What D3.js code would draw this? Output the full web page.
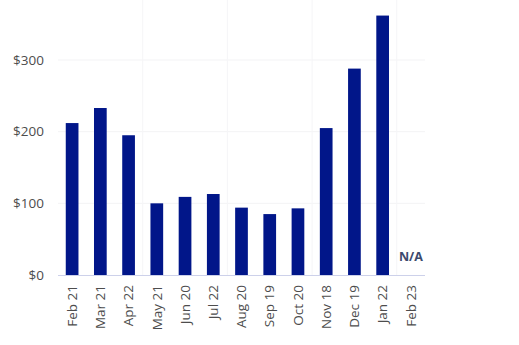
<!DOCTYPE html>
<html><head><meta charset="utf-8">
<script src="https://cdn.jsdelivr.net/npm/d3@7"></script>
<style>
body{margin:0;background:#fff;}
svg{display:block;font-family:"Open Sans",sans-serif;}
</style></head>
<body><svg id="chart" width="519" height="345"></svg>
<script>
const categories = ["Feb 21","Mar 21","Apr 22","May 21","Jun 20","Jul 22","Aug 20","Sep 19","Oct 20","Nov 18","Dec 19","Jan 22","Feb 23"];
const values = [212, 233, 195, 100, 109, 113, 94, 85, 93, 205, 288, 362, null];
const yTicks = [0, 100, 200, 300];
const naLabel = "N/A";

(function () {
const svg = d3.select("#chart");
const mLeft = 58, mRight = 425, mBottom = 275;

const x = d3.scaleBand().domain(categories).range([mLeft, mRight]).paddingInner(0.55).paddingOuter(0.275);
const y = d3.scaleLinear().domain([0, 300]).range([mBottom, 60]);

// horizontal grid
svg.append("g").selectAll("line").data(yTicks.filter(d => d > 0)).join("line")
  .attr("x1", mLeft).attr("x2", mRight)
  .attr("y1", d => y(d)).attr("y2", d => y(d))
  .attr("stroke", "#f3f3f5").attr("stroke-width", 1);

// vertical grid every 3 categories
const step = x.step();
svg.append("g").selectAll("line").data([3, 6, 9, 12]).join("line")
  .attr("x1", d => mLeft + d * step).attr("x2", d => mLeft + d * step)
  .attr("y1", 0).attr("y2", mBottom)
  .attr("stroke", "#f5f5f7").attr("stroke-width", 1);

// bars
svg.append("g").selectAll("rect").data(categories.map((c, i) => ({c, v: values[i]})).filter(d => d.v != null)).join("rect")
  .attr("x", d => x(d.c)).attr("width", x.bandwidth())
  .attr("y", d => y(d.v)).attr("height", d => y(0) - y(d.v))
  .attr("fill", "#011689");

// N/A
categories.forEach((c, i) => {
  if (values[i] == null) {
    svg.append("text").attr("x", x(c) + x.bandwidth() / 2).attr("y", y(0) - 14)
      .attr("text-anchor", "middle").attr("font-size", 12.5).attr("font-weight", 700)
      .attr("fill", "#3c4a6e").text(naLabel);
  }
});

// y axis
const yAxis = d3.axisLeft(y).tickValues(yTicks).tickFormat(d => "$" + d).tickSize(0).tickPadding(14);
const gy = svg.append("g").attr("transform", `translate(${mLeft},0)`).call(yAxis);
gy.select(".domain").remove();
gy.selectAll("text").attr("font-size", 13.5).attr("fill", "#4d4d4d").attr("font-family", "Open Sans, sans-serif");

// x axis
const xAxis = d3.axisBottom(x).tickSize(0).tickPadding(0);
const gx = svg.append("g").attr("transform", `translate(0,${mBottom})`).call(xAxis);
gx.select(".domain").attr("stroke", "#cdd1ea").attr("d", `M${mLeft},0.5H${mRight}`);
gx.selectAll("text").attr("font-size", 13.5).attr("fill", "#4d4d4d").attr("font-family", "Open Sans, sans-serif")
  .attr("transform", "rotate(-90)").attr("text-anchor", "end")
  .attr("x", -10).attr("y", 0).attr("dy", "0.35em");
})();
</script></body></html>
